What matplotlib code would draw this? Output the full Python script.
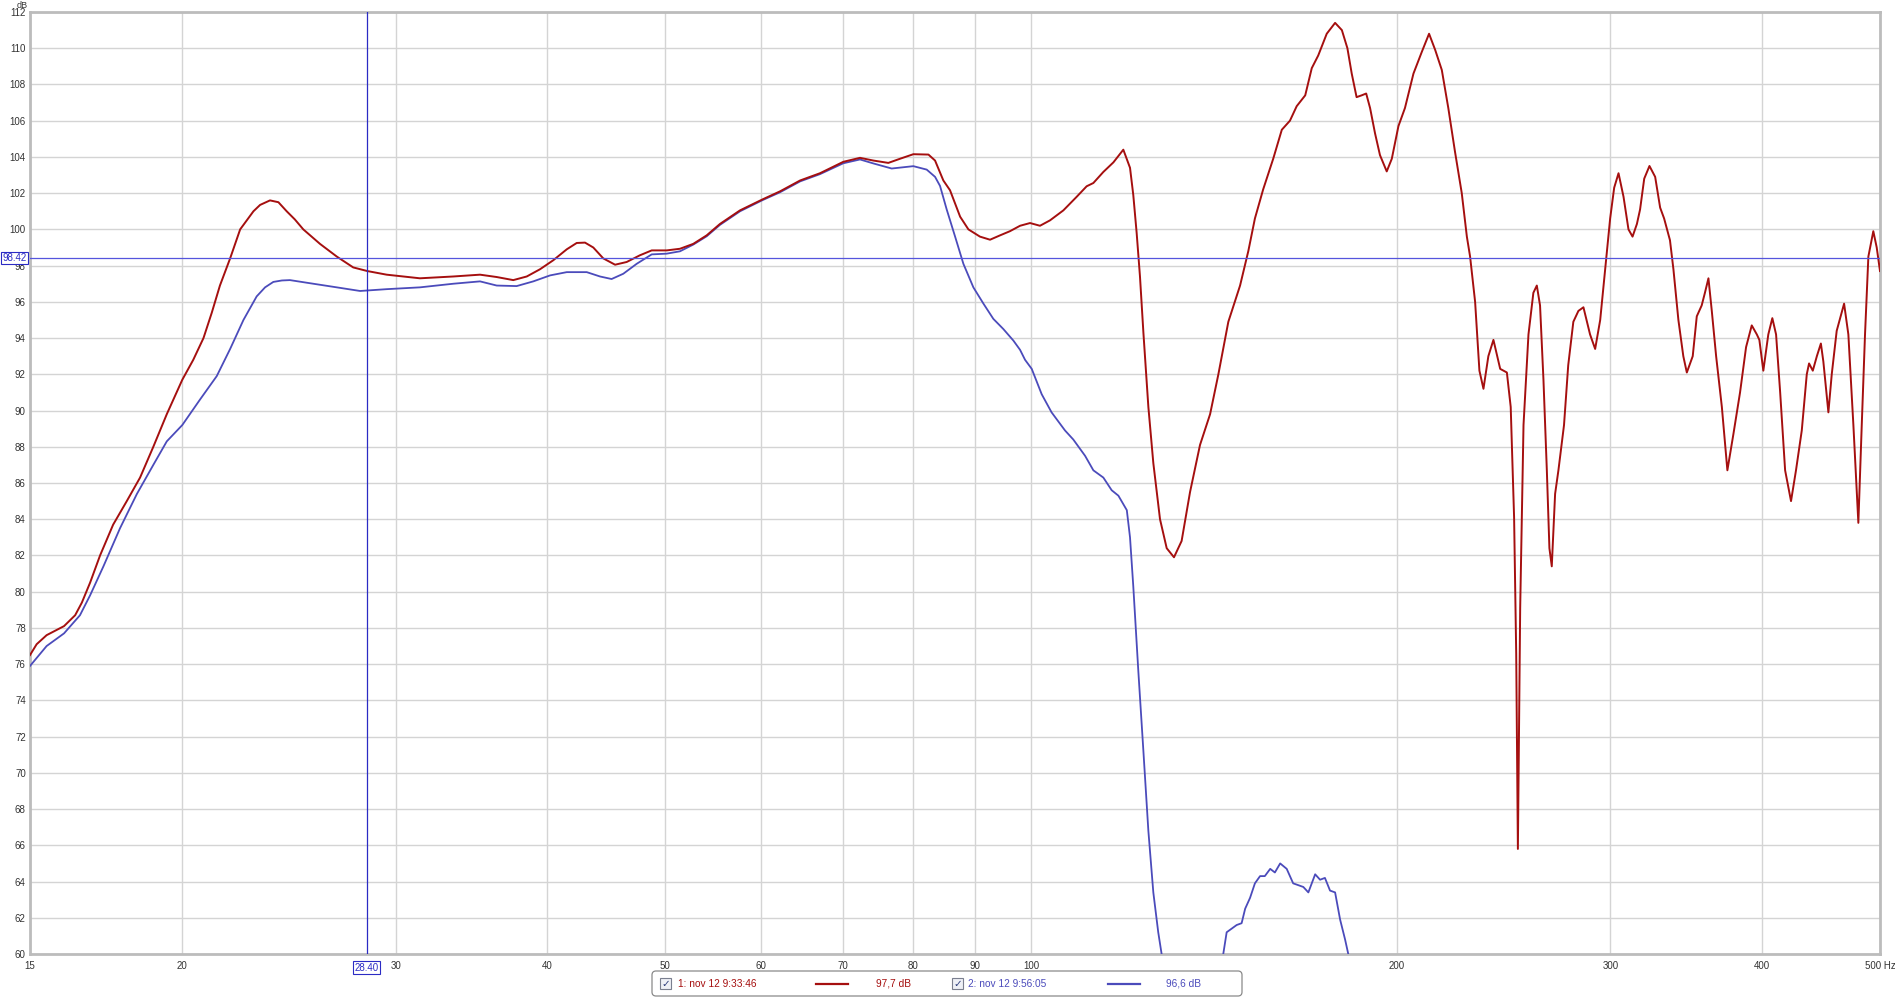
"""
Frequency response overlay (two measurements, 15 Hz - 500 Hz, log axis),
with REW-style cursor lines and legend strip.
"""
import numpy as np
import matplotlib
matplotlib.use('Agg')
import matplotlib.pyplot as plt
from matplotlib.patches import FancyBboxPatch, Rectangle

plt.rcParams['font.family'] = ['Liberation Sans', 'DejaVu Sans']

# measurement 1 (nov 12 9:33:46)
freq_1 = [15.0, 15.19, 15.48, 16.0, 16.34, 16.55, 16.81, 17.13, 17.56, 18.02,
          18.48, 18.95, 19.44, 20.02, 20.44, 20.84, 21.17, 21.5, 21.92, 22.34,
          22.91, 23.2, 23.64, 24.02, 24.4, 24.78, 25.18, 25.99, 26.83, 27.68, 28.43, 29.49, 31.41,
          33.46, 35.2, 36.33, 37.49, 38.46, 39.44, 40.45, 41.49, 42.28, 42.95,
          43.63, 44.46, 45.47, 46.48, 47.66, 48.74, 50.14, 51.42, 52.73, 54.09,
          55.47, 57.62, 60.15, 62.16, 64.57, 67.05, 70.08, 72.33, 74.19, 76.32,
          78.04, 80.03, 82.35, 83.39, 84.71, 85.79, 87.45, 88.83, 90.8, 92.55,
          94.32, 96.11, 97.97, 99.84, 101.74, 103.7, 106.35, 109.07, 111.15, 112.57,
          114.72, 116.93, 119.15, 120.67, 121.42, 122.2, 122.97, 123.77, 124.94, 126.12,
          127.73, 129.36, 131.16, 133.07, 135.21, 137.79, 140.45, 142.67, 145.39, 148.66,
          151.0, 152.9, 155.3, 158.3, 160.9, 163.4, 165.5, 168.2, 170.3, 172.4,
          175.2, 178.0, 180.3, 182.2, 183.7, 185.4, 187.2, 188.8, 190.2, 192.0,
          193.8, 196.3, 198.2, 200.7, 203.2, 206.5, 209.8, 212.7, 215.2, 217.9,
          220.6, 223.4, 226.3, 228.5, 229.9, 232.1, 234.0, 235.8, 238.0, 240.3,
          243.4, 244.9, 246.5, 248.3, 249.9, 250.9, 251.7, 252.8, 254.4, 256.8,
          259.2, 260.9, 262.5, 264.2, 265.9, 267.2, 268.4, 270.1, 271.8, 274.7,
          276.9, 279.6, 282.3, 285.0, 288.6, 291.4, 294.2, 297.0, 299.8, 302.1,
          304.6, 307.5, 310.4, 312.8, 315.4, 317.3, 319.8, 323.0, 326.5, 329.6,
          332.1, 335.8, 338.0, 341.2, 344.4, 346.7, 350.6, 353.3, 356.6, 358.8,
          361.2, 363.5, 366.5, 370.5, 374.4, 378.7, 383.5, 387.9, 392.1, 395.9,
          397.8, 400.8, 404.6, 407.7, 410.6, 413.8, 417.7, 422.4, 426.4, 431.1,
          435.2, 437.1, 440.2, 443.6, 447.0, 449.1, 453.4, 456.3, 460.6, 467.1,
          470.9, 475.4, 479.9, 483.0, 486.0, 489.1, 493.7, 496.9, 500.0]
spl_1 = [76.5, 77.1, 77.6, 78.1, 78.7, 79.4, 80.5, 82.0, 83.7, 85.0,
         86.3, 88.0, 89.8, 91.7, 92.8, 94.0, 95.4, 96.9, 98.4, 100.0,
         101.0, 101.35, 101.6, 101.5, 101.0, 100.55, 100.0, 99.2, 98.5, 97.9, 97.7, 97.5, 97.3,
         97.4, 97.5, 97.37, 97.2, 97.4, 97.8, 98.3, 98.9, 99.25, 99.27,
         99.0, 98.4, 98.05, 98.2, 98.57, 98.84, 98.84, 98.93, 99.2, 99.67,
         100.3, 101.05, 101.66, 102.1, 102.7, 103.1, 103.73, 103.95, 103.8, 103.67,
         103.9, 104.15, 104.13, 103.8, 102.7, 102.16, 100.7, 100.0, 99.6, 99.43,
         99.67, 99.9, 100.2, 100.35, 100.2, 100.5, 101.05, 101.8, 102.38, 102.56,
         103.17, 103.7, 104.4, 103.4, 101.9, 99.8, 97.4, 94.3, 90.2, 87.1,
         84.0, 82.4, 81.9, 82.8, 85.5, 88.1, 89.8, 92.0, 94.9, 96.9,
         98.8, 100.6, 102.2, 103.9, 105.5, 106.0, 106.8, 107.4, 108.9, 109.6,
         110.8, 111.4, 111.0, 110.0, 108.6, 107.3, 107.4, 107.5, 106.7, 105.3,
         104.1, 103.2, 103.9, 105.7, 106.7, 108.6, 109.8, 110.8, 109.9, 108.8,
         106.7, 104.3, 102.0, 99.6, 98.5, 96.0, 92.2, 91.2, 93.0, 93.9,
         92.3, 92.2, 92.1, 90.2, 84.1, 76.6, 65.8, 79.1, 89.2, 94.2,
         96.5, 96.9, 95.8, 91.7, 86.7, 82.4, 81.4, 85.4, 86.7, 89.2,
         92.5, 94.9, 95.5, 95.7, 94.2, 93.4, 95.0, 97.8, 100.6, 102.3,
         103.1, 101.8, 100.0, 99.6, 100.3, 101.1, 102.8, 103.5, 102.9, 101.2,
         100.6, 99.4, 97.8, 95.0, 93.0, 92.1, 93.0, 95.2, 95.8, 96.5,
         97.3, 95.5, 93.0, 90.2, 86.7, 88.7, 91.0, 93.5, 94.7, 94.2,
         93.9, 92.2, 94.2, 95.1, 94.2, 91.0, 86.7, 85.0, 86.7, 88.9,
         92.0, 92.6, 92.2, 93.0, 93.7, 92.7, 89.9, 92.0, 94.4, 95.9,
         94.2, 89.2, 83.8, 89.2, 94.2, 98.5, 99.9, 99.0, 97.7]

# measurement 2 (nov 12 9:56:05) - drops below the 60 dB floor around 130-142 Hz and after ~183 Hz
freq_2 = [15.0, 15.48, 16.0, 16.49, 16.81, 17.24, 17.79, 18.37, 18.95, 19.44,
          20.02, 20.7, 21.37, 21.92, 22.48, 23.05, 23.42, 23.79, 24.18, 24.55, 25.66, 26.83,
          28.04, 29.49, 31.41, 33.46, 35.2, 36.33, 37.73, 38.94, 40.2, 41.49,
          43.09, 44.19, 45.17, 46.18, 47.37, 48.74, 50.14, 51.42, 52.73, 54.09,
          55.47, 57.62, 60.15, 62.16, 64.57, 67.05, 70.08, 72.33, 74.19, 76.81,
          80.03, 82.08, 83.39, 84.18, 85.25, 86.62, 87.99, 89.67, 91.4, 93.13,
          94.91, 96.74, 97.97, 98.9, 100.16, 102.07, 104.0, 106.68, 108.37, 110.82,
          112.57, 114.72, 116.55, 118.04, 119.94, 120.67, 121.42, 122.59, 123.77, 124.94,
          126.12, 127.3, 128.12, 130.2, 141.7, 144.0, 144.93, 146.31, 147.7, 149.1,
          150.1, 151.5, 152.9, 154.4, 155.8, 157.4, 158.8, 160.4, 162.4, 164.4,
          166.0, 167.6, 169.2, 171.4, 173.0, 174.6, 176.3, 178.0, 179.7, 181.4,
          182.5, 186.0]
spl_2 = [75.9, 77.0, 77.7, 78.7, 79.8, 81.4, 83.5, 85.4, 87.0, 88.3,
         89.2, 90.6, 91.9, 93.4, 95.0, 96.3, 96.8, 97.1, 97.18, 97.2, 97.0, 96.8,
         96.6, 96.7, 96.8, 97.0, 97.13, 96.9, 96.87, 97.13, 97.46, 97.64,
         97.64, 97.4, 97.26, 97.55, 98.1, 98.62, 98.66, 98.79, 99.16, 99.62,
         100.25, 101.0, 101.62, 102.05, 102.65, 103.05, 103.65, 103.86, 103.64, 103.36,
         103.49, 103.3, 102.9, 102.4, 101.1, 99.6, 98.1, 96.8, 95.9, 95.06,
         94.5, 93.86, 93.35, 92.8, 92.3, 90.9, 89.9, 88.9, 88.4, 87.5,
         86.7, 86.3, 85.6, 85.3, 84.5, 83.0, 80.3, 75.6, 71.2, 66.8,
         63.4, 61.2, 60.0, 57.0, 57.0, 60.0, 61.2, 61.4, 61.6, 61.7,
         62.5, 63.1, 63.9, 64.3, 64.3, 64.7, 64.5, 65.0, 64.7, 63.9,
         63.8, 63.7, 63.4, 64.4, 64.1, 64.2, 63.5, 63.4, 61.9, 60.8,
         60.0, 55.0]

x_ticks = [15, 20, 30, 40, 50, 60, 70, 80, 90, 100, 200, 300, 400, 500]
x_tick_labels = ['15', '20', '30', '40', '50', '60', '70', '80', '90', '100',
                 '200', '300', '400', '500 Hz']
y_ticks = list(range(60, 113, 2))

cursor_freq = 28.40
cursor_level = 98.42
legend_names = ['1: nov 12 9:33:46', '2: nov 12 9:56:05']
legend_levels = ['97,7 dB', '96,6 dB']

red = '#a50f0f'
blue = '#4b4bbb'
cursor_blue = '#2b2bc4'

W, H = 1895, 998
fig = plt.figure(figsize=(W / 100, H / 100), dpi=100)
fig.patch.set_facecolor('white')
ax = fig.add_axes([30 / W, (H - 954) / H, 1850 / W, (954 - 12) / H])

ax.set_xscale('log')
ax.set_xlim(15, 500)
ax.set_ylim(60, 112)
ax.set_xticks(x_ticks)
ax.set_xticklabels(x_tick_labels)
ax.xaxis.set_minor_locator(matplotlib.ticker.NullLocator())
ax.set_yticks(y_ticks)
ax.set_yticklabels([str(v) for v in y_ticks])
ax.tick_params(axis='both', length=0, labelsize=7, labelcolor='#333333')
ax.tick_params(axis='y', pad=3)
ax.tick_params(axis='x', pad=5)
ax.grid(True, color='#d4d4d4', lw=1.0)
ax.set_axisbelow(True)
for s in ax.spines.values():
    s.set_color('#bcbcbc')
    s.set_linewidth(2)

ax.plot(freq_1, spl_1, color=red, lw=1.4, zorder=4)
ax.plot(freq_2, spl_2, color=blue, lw=1.3, zorder=3)

# cursor lines
ax.axvline(cursor_freq, color=cursor_blue, lw=0.9, zorder=5)
ax.axhline(cursor_level, color='#5555dd', lw=0.9, zorder=5)

box_style = dict(boxstyle='square,pad=0.15', fc='white', ec=cursor_blue, lw=0.8)
ax.text(-0.015, cursor_level, '98.42', transform=ax.get_yaxis_transform(),
        ha='left', va='center', fontsize=7, color=cursor_blue, bbox=box_style,
        clip_on=False, zorder=6)
ax.text(cursor_freq, -0.0095, '28.40', transform=ax.get_xaxis_transform(),
        ha='center', va='top', fontsize=7, color=cursor_blue, bbox=box_style,
        clip_on=False, zorder=6)

fig.text(22 / W, 1 - 5 / H, 'dB', fontsize=6.5, color='#333333',
         ha='center', va='center')

# legend strip (pixel coordinates)
lax = fig.add_axes([0, 0, 1, 1], zorder=10)
lax.set_xlim(0, W)
lax.set_ylim(H, 0)
lax.axis('off')
lax.add_patch(FancyBboxPatch((652, 971), 590, 25, boxstyle='round,pad=0,rounding_size=4',
                             fc='white', ec='#8a8a8a', lw=0.9))
cols = [red, blue]
check_x = [660, 952]
name_x = [678, 968]
line_x = [816, 1108]
level_x = [893, 1184]
for i in range(2):
    lax.add_patch(Rectangle((check_x[i], 978), 11, 11, fc='#eef0f6', ec='#7a7f8f', lw=0.8))
    lax.text(check_x[i] + 5.5, 983.5, '\u2713', fontsize=7.5, color='#2a3a7a',
             ha='center', va='center', family='DejaVu Sans')
    lax.text(name_x[i], 984, legend_names[i], fontsize=7.3, color=cols[i],
             ha='left', va='center')
    lax.plot([line_x[i], line_x[i] + 32], [983.5, 983.5], color=cols[i], lw=1.6)
    lax.text(level_x[i], 984, legend_levels[i], fontsize=7.3, color=cols[i],
             ha='center', va='center')

fig.savefig('out.png', dpi=100)
